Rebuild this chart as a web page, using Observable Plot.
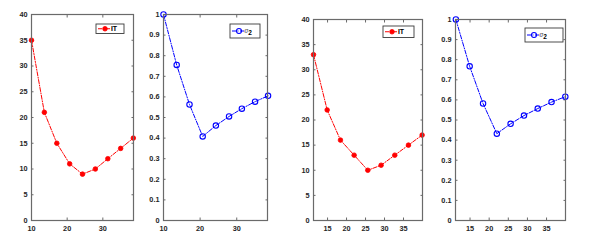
<!DOCTYPE html>
<html>
<head>
<meta charset="utf-8">
<script src="https://cdn.jsdelivr.net/npm/d3@7"></script>
<script src="https://cdn.jsdelivr.net/npm/@observablehq/plot@0.6"></script>
<style>
  body { margin: 0; background: #fff; }
  #wrap { position: relative; width: 589px; height: 241px; overflow: hidden; background: #fff; }
  #wrap svg { position: absolute; top: 0; }
</style>
</head>
<body>
<div id="wrap"></div>
<script>
// ---- data ----
const xA = [10, 13.6, 17.1, 20.7, 24.3, 27.9, 31.4, 35, 38.55];
const itA = [35, 21, 15, 11, 9, 10, 12, 14, 16];
const sigA = [1.0, 0.755, 0.563, 0.408, 0.461, 0.505, 0.543, 0.577, 0.605];
const xB = [11.3, 14.9, 18.4, 22, 25.6, 29.1, 32.7, 36.3, 39.9];
const itB = [33, 22, 16, 13, 10, 11, 13, 15, 17];
const sigB = [1.0, 0.767, 0.582, 0.432, 0.481, 0.522, 0.557, 0.589, 0.616];
const xTicksA = [10, 20, 30];
const xTicksB = [15, 20, 25, 30, 35];
const yTicksIT = [0, 5, 10, 15, 20, 25, 30, 35, 40];
const yTicksSig = [0, 0.1, 0.2, 0.3, 0.4, 0.5, 0.6, 0.7, 0.8, 0.9, 1];

const FONT = "Liberation Sans, Arial, sans-serif";
const FRAME = "#6a6a6a";
const TXT = "#262626";

function panel({left, width, mL, mT, xs, ys, xDomain, yDomain, xTicks, yTicks, color, filled, label, sub, legend}) {
  const table = xs.map((x, i) => ({x, y: ys[i]}));
  const h = 241;
  const axes = [
    Plot.axisY(yTicks, {anchor: "left", label: null, tickSize: 0, tickPadding: 4, fill: TXT, tickFormat: d => String(d)}),
    Plot.axisY(yTicks, {anchor: "left", label: null, text: null, tickSize: 2.5, dx: 2.5, stroke: FRAME}),
    Plot.axisY(yTicks, {anchor: "right", label: null, text: null, tickSize: 2.5, dx: -2.5, stroke: FRAME}),
    Plot.axisX(xTicks, {anchor: "bottom", label: null, tickSize: 0, tickPadding: 5, fill: TXT}),
    Plot.axisX(xTicks, {anchor: "bottom", label: null, text: null, tickSize: 2.5, dy: -2.5, stroke: FRAME}),
    Plot.axisX(xTicks, {anchor: "top", label: null, text: null, tickSize: 2.5, dy: 2.5, stroke: FRAME})
  ];
  const svg = Plot.plot({
    width, height: h,
    marginLeft: mL, marginRight: 2, marginTop: mT, marginBottom: 21,
    style: {fontFamily: FONT, fontSize: "7.3px", fontWeight: "bold", background: "transparent", overflow: "visible"},
    x: {domain: xDomain, axis: null},
    y: {domain: yDomain, axis: null},
    marks: [
      ...axes,
      Plot.line(table, {x: "x", y: "y", stroke: color, strokeWidth: 1, strokeDasharray: "4,1.5,1,1.5"}),
      Plot.dot(table, {x: "x", y: "y", r: filled ? 2.3 : 2.7, stroke: color, strokeWidth: filled ? 0.8 : 1.1, fill: filled ? color : "none"}),
      Plot.frame({stroke: FRAME, strokeWidth: 1.2})
    ]
  });
  svg.style.left = left + "px";
  // legend box
  const g = d3.select(svg).append("g");
  const [lx, ly, lw, lh] = legend;
  g.append("rect").attr("x", lx).attr("y", ly).attr("width", lw).attr("height", lh)
    .attr("fill", "#fff").attr("stroke", "#3a3a3a").attr("stroke-width", 0.9);
  const cy = ly + lh / 2;
  g.append("line").attr("x1", lx + 2).attr("x2", lx + 16).attr("y1", cy).attr("y2", cy)
    .attr("stroke", color).attr("stroke-width", 1).attr("stroke-dasharray", "4,1.5,1,1.5");
  g.append("circle").attr("cx", lx + 9).attr("cy", cy).attr("r", filled ? 2.3 : 2.5)
    .attr("fill", filled ? color : "none").attr("stroke", color).attr("stroke-width", filled ? 0.8 : 1.1);
  const t = g.append("text").attr("x", lx + 18).attr("y", cy + 2)
    .attr("font-family", FONT).attr("font-size", 7).attr("font-weight", "bold").attr("fill", "#000");
  if (sub) {
    t.append("tspan").attr("font-size", 6.5).attr("font-weight", "normal").attr("font-style", "italic").attr("fill", "#555").text(label);
    t.append("tspan").attr("dy", 1.8).attr("font-size", 6.5).text(sub);
  } else {
    t.text(label);
  }
  document.getElementById("wrap").appendChild(svg);
}

panel({left: 0, width: 135, mL: 31, mT: 14, xs: xA, ys: itA, xDomain: [10, 38.6], yDomain: [0, 40],
  xTicks: xTicksA, yTicks: yTicksIT, color: "#ff0000", filled: true, label: "IT", legend: [96, 24, 28, 9.5]});
panel({left: 140, width: 129, mL: 23, mT: 14, xs: xA, ys: sigA, xDomain: [10, 38.4], yDomain: [0, 1],
  xTicks: xTicksA, yTicks: yTicksSig, color: "#0000ff", filled: false, label: "σ", sub: "2", legend: [90, 24, 30, 14]});
panel({left: 290, width: 134, mL: 23, mT: 19, xs: xB, ys: itB, xDomain: [11.3, 40], yDomain: [0, 40],
  xTicks: xTicksB, yTicks: yTicksIT, color: "#ff0000", filled: true, label: "IT", legend: [93, 26, 31, 11.5]});
panel({left: 430, width: 137, mL: 25, mT: 19, xs: xB, ys: sigB, xDomain: [11.2, 39.95], yDomain: [0, 1],
  xTicks: xTicksB, yTicks: yTicksSig, color: "#0000ff", filled: false, label: "σ", sub: "2", legend: [95, 28, 38, 14]});
</script>
</body>
</html>
